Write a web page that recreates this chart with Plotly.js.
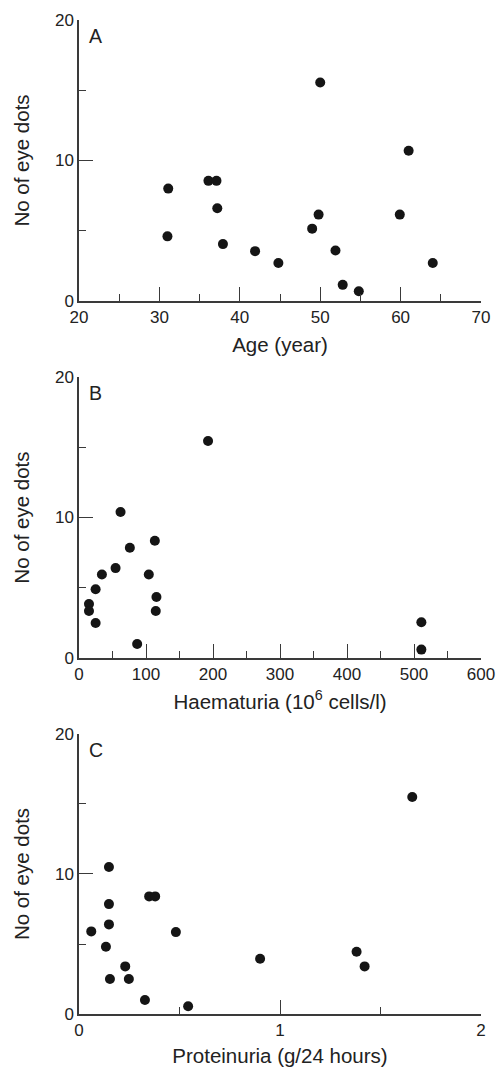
<!DOCTYPE html>
<html>
<head>
<meta charset="utf-8">
<script src="https://cdn.plot.ly/plotly-3.0.1.min.js"></script>
<style>html,body{margin:0;padding:0;background:#fff;}#chart{width:497px;height:1067px;}</style>
</head>
<body>
<div id="chart"></div>
<script>
// Panel A: Age (year) vs No of eye dots
var ageX = [31.1, 31.0, 36.1, 37.1, 37.2, 37.9, 41.9, 44.8, 49.0, 49.8, 50.0, 51.9, 52.8, 54.8, 59.9, 61.0, 64.0];
var ageY = [8.0, 4.6, 8.55, 8.55, 6.6, 4.05, 3.55, 2.7, 5.15, 6.15, 15.55, 3.6, 1.15, 0.7, 6.15, 10.7, 2.7];
// Panel B: Haematuria (10^6 cells/l) vs No of eye dots
var haemX = [14.9, 14.9, 24.8, 24.8, 34.2, 54.6, 62, 75.9, 86.8, 104.2, 113.2, 115.6, 114.6, 192.6, 511, 511];
var haemY = [3.85, 3.35, 4.9, 2.5, 5.95, 6.4, 10.4, 7.85, 1.0, 5.95, 8.35, 4.35, 3.35, 15.45, 2.55, 0.6];
// Panel C: Proteinuria (g/24 hours) vs No of eye dots
var protX = [0.061, 0.134, 0.149, 0.149, 0.149, 0.154, 0.230, 0.248, 0.328, 0.349, 0.379, 0.482, 0.543, 0.901, 1.381, 1.421, 1.658];
var protY = [5.9, 4.8, 10.5, 7.85, 6.4, 2.5, 3.4, 2.5, 1.0, 8.4, 8.4, 5.85, 0.55, 3.95, 4.45, 3.4, 15.5];

var panelLetters = ['A', 'B', 'C'];
var xTitles = ['Age (year)', 'Haematuria (10<sup>6</sup> cells/l)', 'Proteinuria (g/24 hours)'];
var yTitle = 'No of eye dots';

var lineCol = '#3a3a3a';
var txtCol = '#222222';
var fontFam = 'Liberation Sans, Arial, Helvetica, sans-serif';

function mk(x, y, ax) {
  return {x: x, y: y, xaxis: 'x' + ax, yaxis: 'y' + ax, type: 'scatter', mode: 'markers',
    marker: {size: 10, color: '#151515'}, cliponaxis: false, hoverinfo: 'x+y'};
}
var data = [mk(ageX, ageY, ''), mk(haemX, haemY, '2'), mk(protX, protY, '3')];

function xa(range, dtick, minor, domainAnchor, title) {
  return {range: range, dtick: dtick, tick0: 0, ticks: 'inside', ticklen: 14, tickwidth: 1.2, tickcolor: lineCol,
    showline: true, linecolor: lineCol, linewidth: 1.5, showgrid: false, zeroline: false,
    tickfont: {size: 17, color: txtCol, family: fontFam},
    minor: {dtick: minor, tick0: 0, ticks: 'inside', ticklen: 7, tickwidth: 1.2, tickcolor: lineCol, showgrid: false},
    anchor: domainAnchor, fixedrange: true,
    title: {text: title, font: {size: 20.5, color: txtCol, family: fontFam}, standoff: 11}};
}
function ya(domain, anchor) {
  return {range: [0, 20], dtick: 10, tick0: 0, ticks: 'inside', ticklen: 14, tickwidth: 1.2, tickcolor: lineCol,
    showline: true, linecolor: lineCol, linewidth: 1.5, showgrid: false, zeroline: false,
    tickfont: {size: 17, color: txtCol, family: fontFam},
    minor: {dtick: 5, tick0: 0, ticks: 'inside', ticklen: 7, tickwidth: 1.2, tickcolor: lineCol, showgrid: false},
    domain: domain, anchor: anchor, fixedrange: true,
    title: {text: yTitle, font: {size: 20.5, color: txtCol, family: fontFam}, standoff: 20}};
}

var layout = {
  width: 497, height: 1067,
  margin: {l: 79, r: 16, t: 20, b: 53},
  paper_bgcolor: '#fff', plot_bgcolor: '#fff',
  showlegend: false,
  font: {family: fontFam, color: txtCol},
  xaxis: xa([20, 70], 10, 5, 'y', xTitles[0]),
  yaxis: ya([0.7173, 1], 'x'),
  xaxis2: xa([0, 600], 100, 50, 'y2', xTitles[1]),
  yaxis2: ya([0.3581, 0.6408], 'x2'),
  xaxis3: xa([0, 2], 1, 0.5, 'y3', xTitles[2]),
  yaxis3: ya([0, 0.2817], 'x3'),
  annotations: panelLetters.map(function (t, i) {
    var s = i === 0 ? '' : String(i + 1);
    return {text: t, xref: 'x' + s + ' domain', yref: 'y' + s + ' domain', x: 0.042, y: 0.943,
      xanchor: 'center', yanchor: 'middle', showarrow: false, font: {size: 19.5, color: txtCol, family: fontFam}};
  })
};

Plotly.newPlot('chart', data, layout, {displayModeBar: false});
</script>
</body>
</html>
